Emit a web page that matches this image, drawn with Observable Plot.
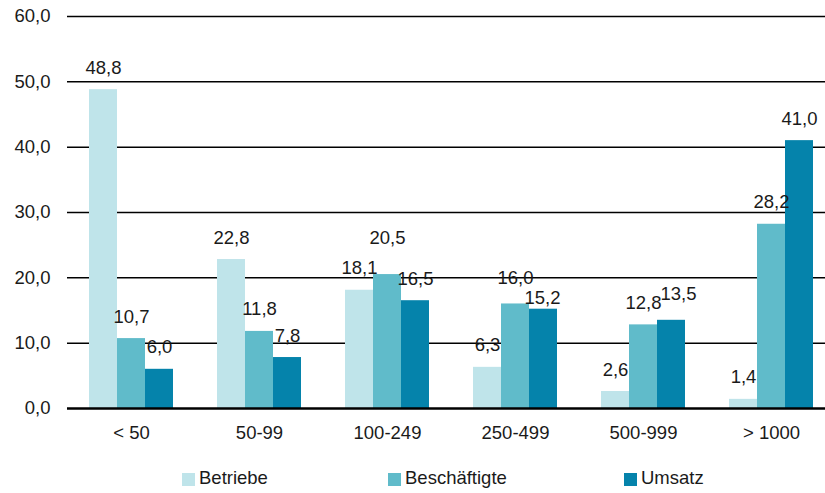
<!DOCTYPE html>
<html lang="de">
<head>
<meta charset="utf-8">
<script src="https://cdn.jsdelivr.net/npm/d3@7"></script>
<script src="https://cdn.jsdelivr.net/npm/@observablehq/plot@0.6"></script>
<style>
  html, body { margin: 0; padding: 0; background: #fff; }
  #wrap { width: 825px; height: 493px; overflow: hidden; position: relative;
          font-family: "Liberation Sans", Arial, sans-serif; color: #1a1a1a; }
  #chart svg { display: block; overflow: hidden; }
  #legend { position: relative; height: 43px; font-size: 18.5px; }
  .item { position: absolute; top: 17px; display: flex; align-items: center; white-space: nowrap; }
  .sw { width: 13px; height: 13px; margin-right: 4px; margin-top: 2px; }
</style>
</head>
<body>
<div id="wrap">
  <div id="chart"></div>
  <div id="legend"></div>
</div>
<script>
// Size classes (employees per establishment)
const groups = ["< 50", "50-99", "100-249", "250-499", "500-999", "> 1000"];
// Series shown for each class (share in %)
const series = ["Betriebe", "Beschäftigte", "Umsatz"];
const betriebe      = [48.8, 22.8, 18.1, 6.3, 2.6, 1.4];
const beschaeftigte = [10.7, 11.8, 20.5, 16.0, 12.8, 28.2];
const umsatz        = [6.0, 7.8, 16.5, 15.2, 13.5, 41.0];
const colors = ["#bfe4ea", "#60bbca", "#0583ab"];
const yTicks = [0, 10, 20, 30, 40, 50, 60];
// legend item left edges
const legendLeft = [182, 388, 624];

const valuesBySeries = [betriebe, beschaeftigte, umsatz];
const rows = [];
groups.forEach((g, i) => {
  series.forEach((s, j) => rows.push({group: g, series: s, value: valuesBySeries[j][i]}));
});

const fmt = d => d.toFixed(1).replace(".", ",");
const font = '"Liberation Sans", Arial, sans-serif';

// a few value labels are nudged so that neighbouring labels stay readable
const nudges = [
  {key: "100-249|Beschäftigte", dx: 0, dy: -15},
  {key: "250-499|Beschäftigte", dx: 0, dy: -4},
  {key: "250-499|Umsatz", dx: -1, dy: 11},
  {key: "500-999|Umsatz", dx: 7, dy: -4}
];
const keyOf = d => d.group + "|" + d.series;
const nudged = new Set(nudges.map(n => n.key));

const labelMark = (data, dx, dy) => Plot.text(data, {
  fx: "group", x: "series", y: "value", text: d => fmt(d.value),
  lineAnchor: "bottom", dx, dy: -16 + dy, fill: "#1a1a1a", fontSize: 18.5
});

const chart = Plot.plot({
  width: 825,
  height: 450,
  marginLeft: 67,
  marginRight: -10,
  marginTop: 16,
  marginBottom: 42,
  style: {fontFamily: font, fontSize: "18.5px", color: "#1a1a1a"},
  fx: {domain: groups, padding: 0, label: null, tickSize: 0, tickPadding: 17, axis: "bottom"},
  x: {domain: series, axis: null, paddingInner: 0, paddingOuter: 0.73},
  y: {domain: [0, 60], axis: null},
  color: {domain: series, range: colors},
  marks: [
    Plot.ruleY(yTicks.filter(d => d > 0), {stroke: "#000", strokeWidth: 1.5}),
    Plot.barY(rows, {fx: "group", x: "series", y: "value", fill: "series"}),
    Plot.ruleY([0], {stroke: "#000", strokeWidth: 2.5}),
    labelMark(rows.filter(d => !nudged.has(keyOf(d))), 0, 0),
    ...nudges.map(n => labelMark(rows.filter(d => keyOf(d) === n.key), n.dx, n.dy)),
    Plot.axisY(yTicks, {tickSize: 0, tickPadding: 17, tickFormat: fmt, fontSize: 18.5, label: null, facetAnchor: "left"})
  ]
});
document.getElementById("chart").appendChild(chart);

const legend = document.getElementById("legend");
series.forEach((s, j) => {
  const item = document.createElement("div");
  item.className = "item";
  item.style.left = legendLeft[j] + "px";
  const sw = document.createElement("span");
  sw.className = "sw";
  sw.style.background = colors[j];
  const label = document.createElement("span");
  label.textContent = s;
  item.appendChild(sw);
  item.appendChild(label);
  legend.appendChild(item);
});
</script>
</body>
</html>
